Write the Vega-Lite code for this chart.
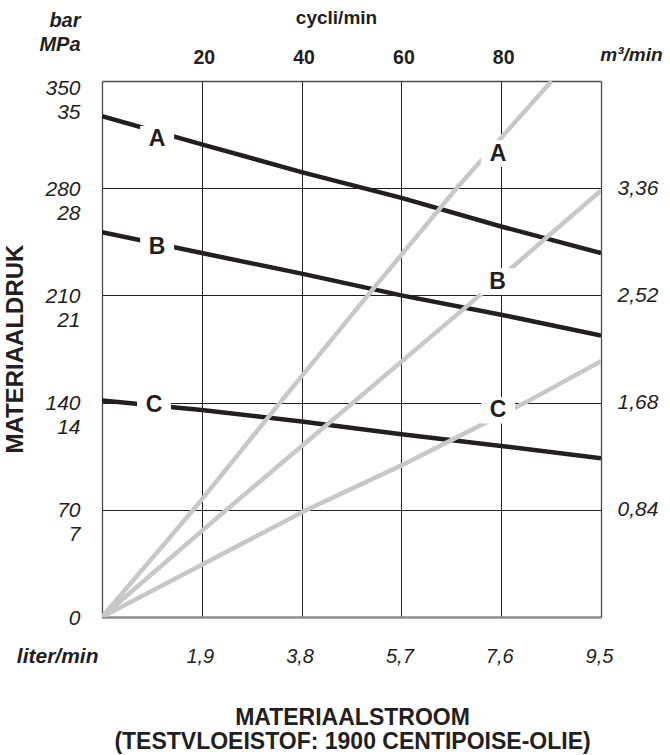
{
  "$schema": "https://vega.github.io/schema/vega-lite/v6.json",
  "width": 499,
  "height": 536,
  "autosize": "none",
  "padding": {"left": 102, "top": 81, "right": 69, "bottom": 138},
  "background": "white",
  "config": {
    "font": "Liberation Sans",
    "view": {"stroke": null},
    "axis": {"labelFont": "Liberation Sans", "titleFont": "Liberation Sans", "labelColor": "#231f20", "titleColor": "#231f20", "ticks": false, "labelFlush": false, "labelOverlap": false}
  },
  "title": {
    "text": "MATERIAALDRUK",
    "orient": "left",
    "anchor": "middle",
    "fontSize": 24,
    "fontWeight": "bold",
    "color": "#231f20",
    "offset": -12
  },
  "datasets": {
    "pressure": [
      {"series": "A", "liters": 0, "bar": 327},
      {"series": "A", "liters": 1.9, "bar": 308.6},
      {"series": "A", "liters": 3.8, "bar": 290.5},
      {"series": "A", "liters": 5.7, "bar": 273.7},
      {"series": "A", "liters": 7.6, "bar": 255},
      {"series": "A", "liters": 9.5, "bar": 237.7},
      {"series": "B", "liters": 0, "bar": 251.2},
      {"series": "B", "liters": 1.9, "bar": 237.7},
      {"series": "B", "liters": 3.8, "bar": 224.2},
      {"series": "B", "liters": 5.7, "bar": 210},
      {"series": "B", "liters": 7.6, "bar": 197.4},
      {"series": "B", "liters": 9.5, "bar": 183.8},
      {"series": "C", "liters": 0, "bar": 141.3},
      {"series": "C", "liters": 1.9, "bar": 135.2},
      {"series": "C", "liters": 3.8, "bar": 127.6},
      {"series": "C", "liters": 5.7, "bar": 119.3},
      {"series": "C", "liters": 7.6, "bar": 111.7},
      {"series": "C", "liters": 9.5, "bar": 103.6}
    ],
    "flow": [
      {"series": "A", "liters": 0, "bar": 0},
      {"series": "A", "liters": 1.74, "bar": 70},
      {"series": "A", "liters": 3.39, "bar": 140},
      {"series": "A", "liters": 5.06, "bar": 210},
      {"series": "A", "liters": 6.75, "bar": 280},
      {"series": "A", "liters": 8.56, "bar": 350},
      {"series": "B", "liters": 0, "bar": 0},
      {"series": "B", "liters": 2.37, "bar": 70},
      {"series": "B", "liters": 7.19, "bar": 210},
      {"series": "B", "liters": 9.5, "bar": 278.5},
      {"series": "C", "liters": 0, "bar": 0},
      {"series": "C", "liters": 3.9, "bar": 70},
      {"series": "C", "liters": 5.7, "bar": 99},
      {"series": "C", "liters": 8.06, "bar": 140},
      {"series": "C", "liters": 9.5, "bar": 167}
    ],
    "labels": [
      {"label": "A", "liters": 1.05, "bar": 312},
      {"label": "B", "liters": 1.05, "bar": 241.8},
      {"label": "C", "liters": 0.99, "bar": 138.5},
      {"label": "A", "liters": 7.54, "bar": 302.6},
      {"label": "B", "liters": 7.53, "bar": 219},
      {"label": "C", "liters": 7.54, "bar": 135}
    ]
  },
  "layer": [
    {
      "data": {"name": "pressure"},
      "mark": {"type": "line", "color": "#231f20", "strokeWidth": 4.5, "clip": true},
      "encoding": {
        "x": {
          "field": "liters", "type": "quantitative",
          "scale": {"domain": [0, 9.5], "nice": false, "zero": false},
          "axis": {
            "orient": "bottom",
            "values": [0, 1.9, 3.8, 5.7, 7.6, 9.5],
            "labelExpr": "datum.value == 0 ? 'liter/min' : replace(format(datum.value, '.1f'), '.', ',')",
            "labelFontSize": {"condition": {"test": "datum.value == 0", "value": 21}, "value": 20},
            "labelFontStyle": "italic",
            "labelFontWeight": {"condition": {"test": "datum.value == 0", "value": "bold"}, "value": "normal"},
            "labelAlign": {"condition": {"test": "datum.value == 0", "value": "right"}, "value": "center"},
            "labelOffset": {"condition": {"test": "datum.value == 0", "value": -4}, "value": -2},
            "labelBaseline": "middle",
            "labelPadding": 39,
            "grid": true,
            "gridColor": {"condition": {"test": "datum.value == 0 || datum.value == 9.5", "value": "transparent"}, "value": "#231f20"},
            "gridWidth": 1,
            "domain": true,
            "domainColor": "#8c8c8c",
            "domainWidth": 2.5,
            "title": ["MATERIAALSTROOM", "(TESTVLOEISTOF: 1900 CENTIPOISE-OLIE)"],
            "titleFontSize": 23,
            "titleFontWeight": "bold",
            "titleLineHeight": 24,
            "titleBaseline": "middle",
            "titleX": 250,
            "titleY": 100
          }
        },
        "y": {
          "field": "bar", "type": "quantitative",
          "scale": {"domain": [0, 350], "nice": false, "zero": false},
          "axis": {
            "orient": "left",
            "values": [0, 70, 140, 210, 280, 350],
            "labelExpr": "datum.value == 0 ? ['0', ''] : [format(datum.value, 'd'), format(datum.value / 10, 'd')]",
            "labelFontSize": 21,
            "labelFontStyle": "italic",
            "labelAlign": "right",
            "labelBaseline": "middle",
            "labelLineHeight": 24,
            "labelOffset": {"condition": {"test": "datum.value == 350", "value": 7}, "value": 1},
            "labelPadding": 22,
            "grid": true,
            "gridColor": {"condition": {"test": "datum.value == 0 || datum.value == 350", "value": "transparent"}, "value": "#231f20"},
            "gridWidth": 1,
            "domain": true,
            "domainColor": "#4a4a4a",
            "domainWidth": 1.3,
            "title": ["bar", "MPa"],
            "titleAngle": 0,
            "titleAlign": "right",
            "titleBaseline": "middle",
            "titleFontSize": 20,
            "titleFontWeight": "bold",
            "titleFontStyle": "italic",
            "titleLineHeight": 24,
            "titleX": -22,
            "titleY": -61
          }
        },
        "detail": {"field": "series"}
      }
    },
    {
      "data": {"name": "flow"},
      "mark": {"type": "line", "color": "#c8c8c8", "strokeWidth": 4.5, "clip": true},
      "encoding": {
        "x": {
          "field": "liters", "type": "quantitative",
          "scale": {"domain": [0, 9.5], "nice": false, "zero": false},
          "axis": {
            "orient": "top",
            "values": [1.9, 3.8, 5.7, 7.6],
            "labelExpr": "format(round(datum.value / 0.095), 'd')",
            "labelFontSize": 19.5,
            "labelFontWeight": "bold",
            "labelBaseline": "middle",
            "labelPadding": 24,
            "labelOffset": 2,
            "grid": false,
            "domain": true,
            "domainColor": "#4a4a4a",
            "domainWidth": 1.3,
            "title": "cycli/min",
            "titleFontSize": 19,
            "titleFontWeight": "bold",
            "titleBaseline": "middle",
            "titleX": 234,
            "titleY": -64
          }
        },
        "y": {
          "field": "bar", "type": "quantitative",
          "scale": {"domain": [0, 350], "nice": false, "zero": false},
          "axis": {
            "orient": "right",
            "values": [70, 140, 210, 280],
            "labelExpr": "replace(format(datum.value * 0.012, '.2f'), '.', ',')",
            "labelFontSize": 21,
            "labelFontStyle": "italic",
            "labelAlign": "left",
            "labelBaseline": "middle",
            "labelPadding": 16,
            "grid": false,
            "domain": true,
            "domainColor": "#4a4a4a",
            "domainWidth": 1.3,
            "title": "m³/min",
            "titleAngle": 0,
            "titleAlign": "center",
            "titleBaseline": "middle",
            "titleFontSize": 19,
            "titleFontWeight": "bold",
            "titleFontStyle": "italic",
            "titleX": 30,
            "titleY": -27
          }
        },
        "detail": {"field": "series"}
      }
    },
    {
      "data": {"name": "labels"},
      "mark": {"type": "point", "shape": "M-1,-0.78L1,-0.78L1,0.78L-1,0.78Z", "filled": true, "fill": "white", "opacity": 1, "strokeWidth": 0, "size": 1156},
      "encoding": {
        "x": {"field": "liters", "type": "quantitative", "scale": {"domain": [0, 9.5], "nice": false, "zero": false}, "axis": null},
        "y": {"field": "bar", "type": "quantitative", "scale": {"domain": [0, 350], "nice": false, "zero": false}, "axis": null}
      }
    },
    {
      "data": {"name": "labels"},
      "mark": {"type": "text", "font": "Liberation Sans", "fontSize": 23, "fontWeight": "bold", "color": "#231f20", "align": "center", "baseline": "middle"},
      "encoding": {
        "x": {"field": "liters", "type": "quantitative", "scale": {"domain": [0, 9.5], "nice": false, "zero": false}, "axis": null},
        "y": {"field": "bar", "type": "quantitative", "scale": {"domain": [0, 350], "nice": false, "zero": false}, "axis": null},
        "text": {"field": "label"}
      }
    }
  ],
  "resolve": {"axis": {"x": "independent", "y": "independent"}}
}
